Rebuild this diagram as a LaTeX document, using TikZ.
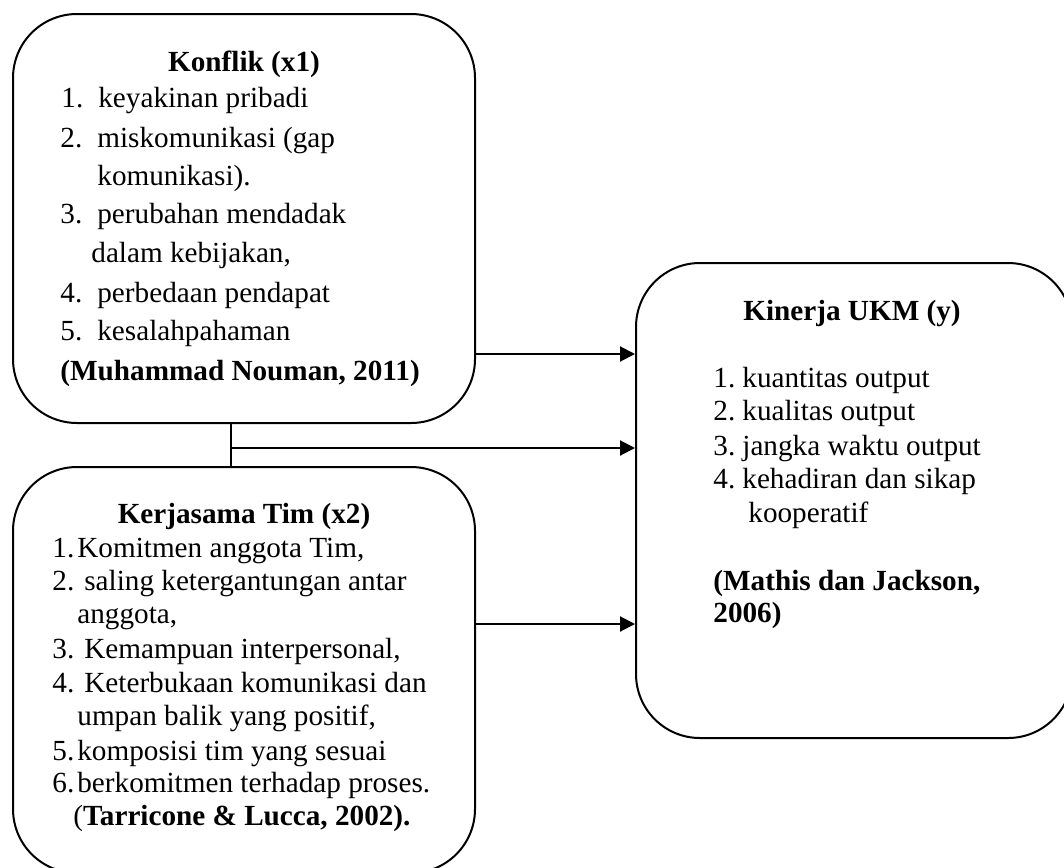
\documentclass[tikz,border=0pt]{standalone}
\usepackage{fontspec}
\setmainfont{Liberation Serif}
\usepackage{tikz}
\usetikzlibrary{arrows.meta, fit}
\tikzset{
    kotak/.style={draw, line width=1pt, rounded corners=32pt, inner sep=0pt},
    garis/.style={line width=1pt},
    panah/.style={line width=1pt, -{Triangle[length=7.5pt, width=7.5pt]}},
    judul/.style={anchor=base, inner sep=0pt, font=\fontsize{14.6}{17}\selectfont\bfseries},
    isi/.style={anchor=base west, inner sep=0pt, font=\fontsize{14.6}{17}\selectfont},
    tebal/.style={isi, font=\fontsize{14.6}{17}\selectfont\bfseries}
}
\newcommand{\nomor}[2]{\makebox[#1][l]{#2}}

\begin{document}
\begin{tikzpicture}[x=0.5pt, y=-0.5pt]
    \useasboundingbox (0,0) rectangle (1064,867);
    % Boxes
    \node[kotak, fit={(13,14) (475,423)}] (konflik) {};
    \node[kotak, fit={(13,467) (475,873)}] (kerjasama) {};
    \node[kotak, fit={(636,263) (1072,738)}] (kinerja) {};

    % Konflik (x1)
    \node[judul] (k0) at (244,71) {Konflik (x1)};
    \node[isi] (k1) at (61,107) {\nomor{18.5pt}{1.}keyakinan pribadi};
    \node[isi] (k2) at (60,147) {\nomor{18.5pt}{2.}miskomunikasi (gap};
    \node[isi] (k3) at (97,185) {komunikasi).};
    \node[isi] (k4) at (60,223) {\nomor{18.5pt}{3.}perubahan mendadak};
    \node[isi] (k5) at (91,262) {dalam kebijakan,};
    \node[isi] (k6) at (60,302) {\nomor{18.5pt}{4.}perbedaan pendapat};
    \node[isi] (k7) at (60,340) {\nomor{18.5pt}{5.}kesalahpahaman};
    \node[tebal] (k8) at (60,380) {(Muhammad Nouman, 2011)};

    % Kerjasama Tim (x2)
    \node[judul] (t0) at (244,523) {Kerjasama Tim (x2)};
    \node[isi] (t1) at (52,557) {\nomor{12.5pt}{1.}Komitmen anggota Tim,};
    \node[isi] (t2) at (52,590) {\nomor{16pt}{2.}saling ketergantungan antar};
    \node[isi] (t3) at (77,623) {anggota,};
    \node[isi] (t4) at (52,658) {\nomor{16pt}{3.}Kemampuan interpersonal,};
    \node[isi] (t5) at (52,692) {\nomor{16pt}{4.}Keterbukaan komunikasi dan};
    \node[isi] (t6) at (77,725) {umpan balik yang positif,};
    \node[isi] (t7) at (52,760) {\nomor{12.5pt}{5.}komposisi tim yang sesuai};
    \node[isi] (t8) at (52,792) {\nomor{12.5pt}{6.}berkomitmen terhadap proses.};
    \node[isi] (t9) at (73,825) {(\textbf{Tarricone \& Lucca, 2002).}};

    % Kinerja UKM (y)
    \node[judul] (y0) at (852,320) {Kinerja UKM (y)};
    \node[isi] (y1) at (713,387) {\nomor{14.5pt}{1.}kuantitas output};
    \node[isi] (y2) at (713,420) {\nomor{14.5pt}{2.}kualitas output};
    \node[isi] (y3) at (713,455) {\nomor{14.5pt}{3.}jangka waktu output};
    \node[isi] (y4) at (713,488) {\nomor{14.5pt}{4.}kehadiran dan sikap};
    \node[isi] (y5) at (748,522) {kooperatif};
    \node[tebal] (y6) at (713,590) {(Mathis dan Jackson,};
    \node[tebal] (y7) at (713,622) {2006)};

    % Connectors
    \coordinate (atas) at (0,354);
    \coordinate (sambung) at (231,448);
    \coordinate (bawah) at (0,624);
    \draw[panah] (konflik.east |- atas) -- (kinerja.west |- atas);
    \draw[garis] (konflik.south -| sambung) -- (kerjasama.north -| sambung);
    \draw[panah] (sambung) -- (kinerja.west |- sambung);
    \draw[panah] (kerjasama.east |- bawah) -- (kinerja.west |- bawah);
\end{tikzpicture}
\end{document}
